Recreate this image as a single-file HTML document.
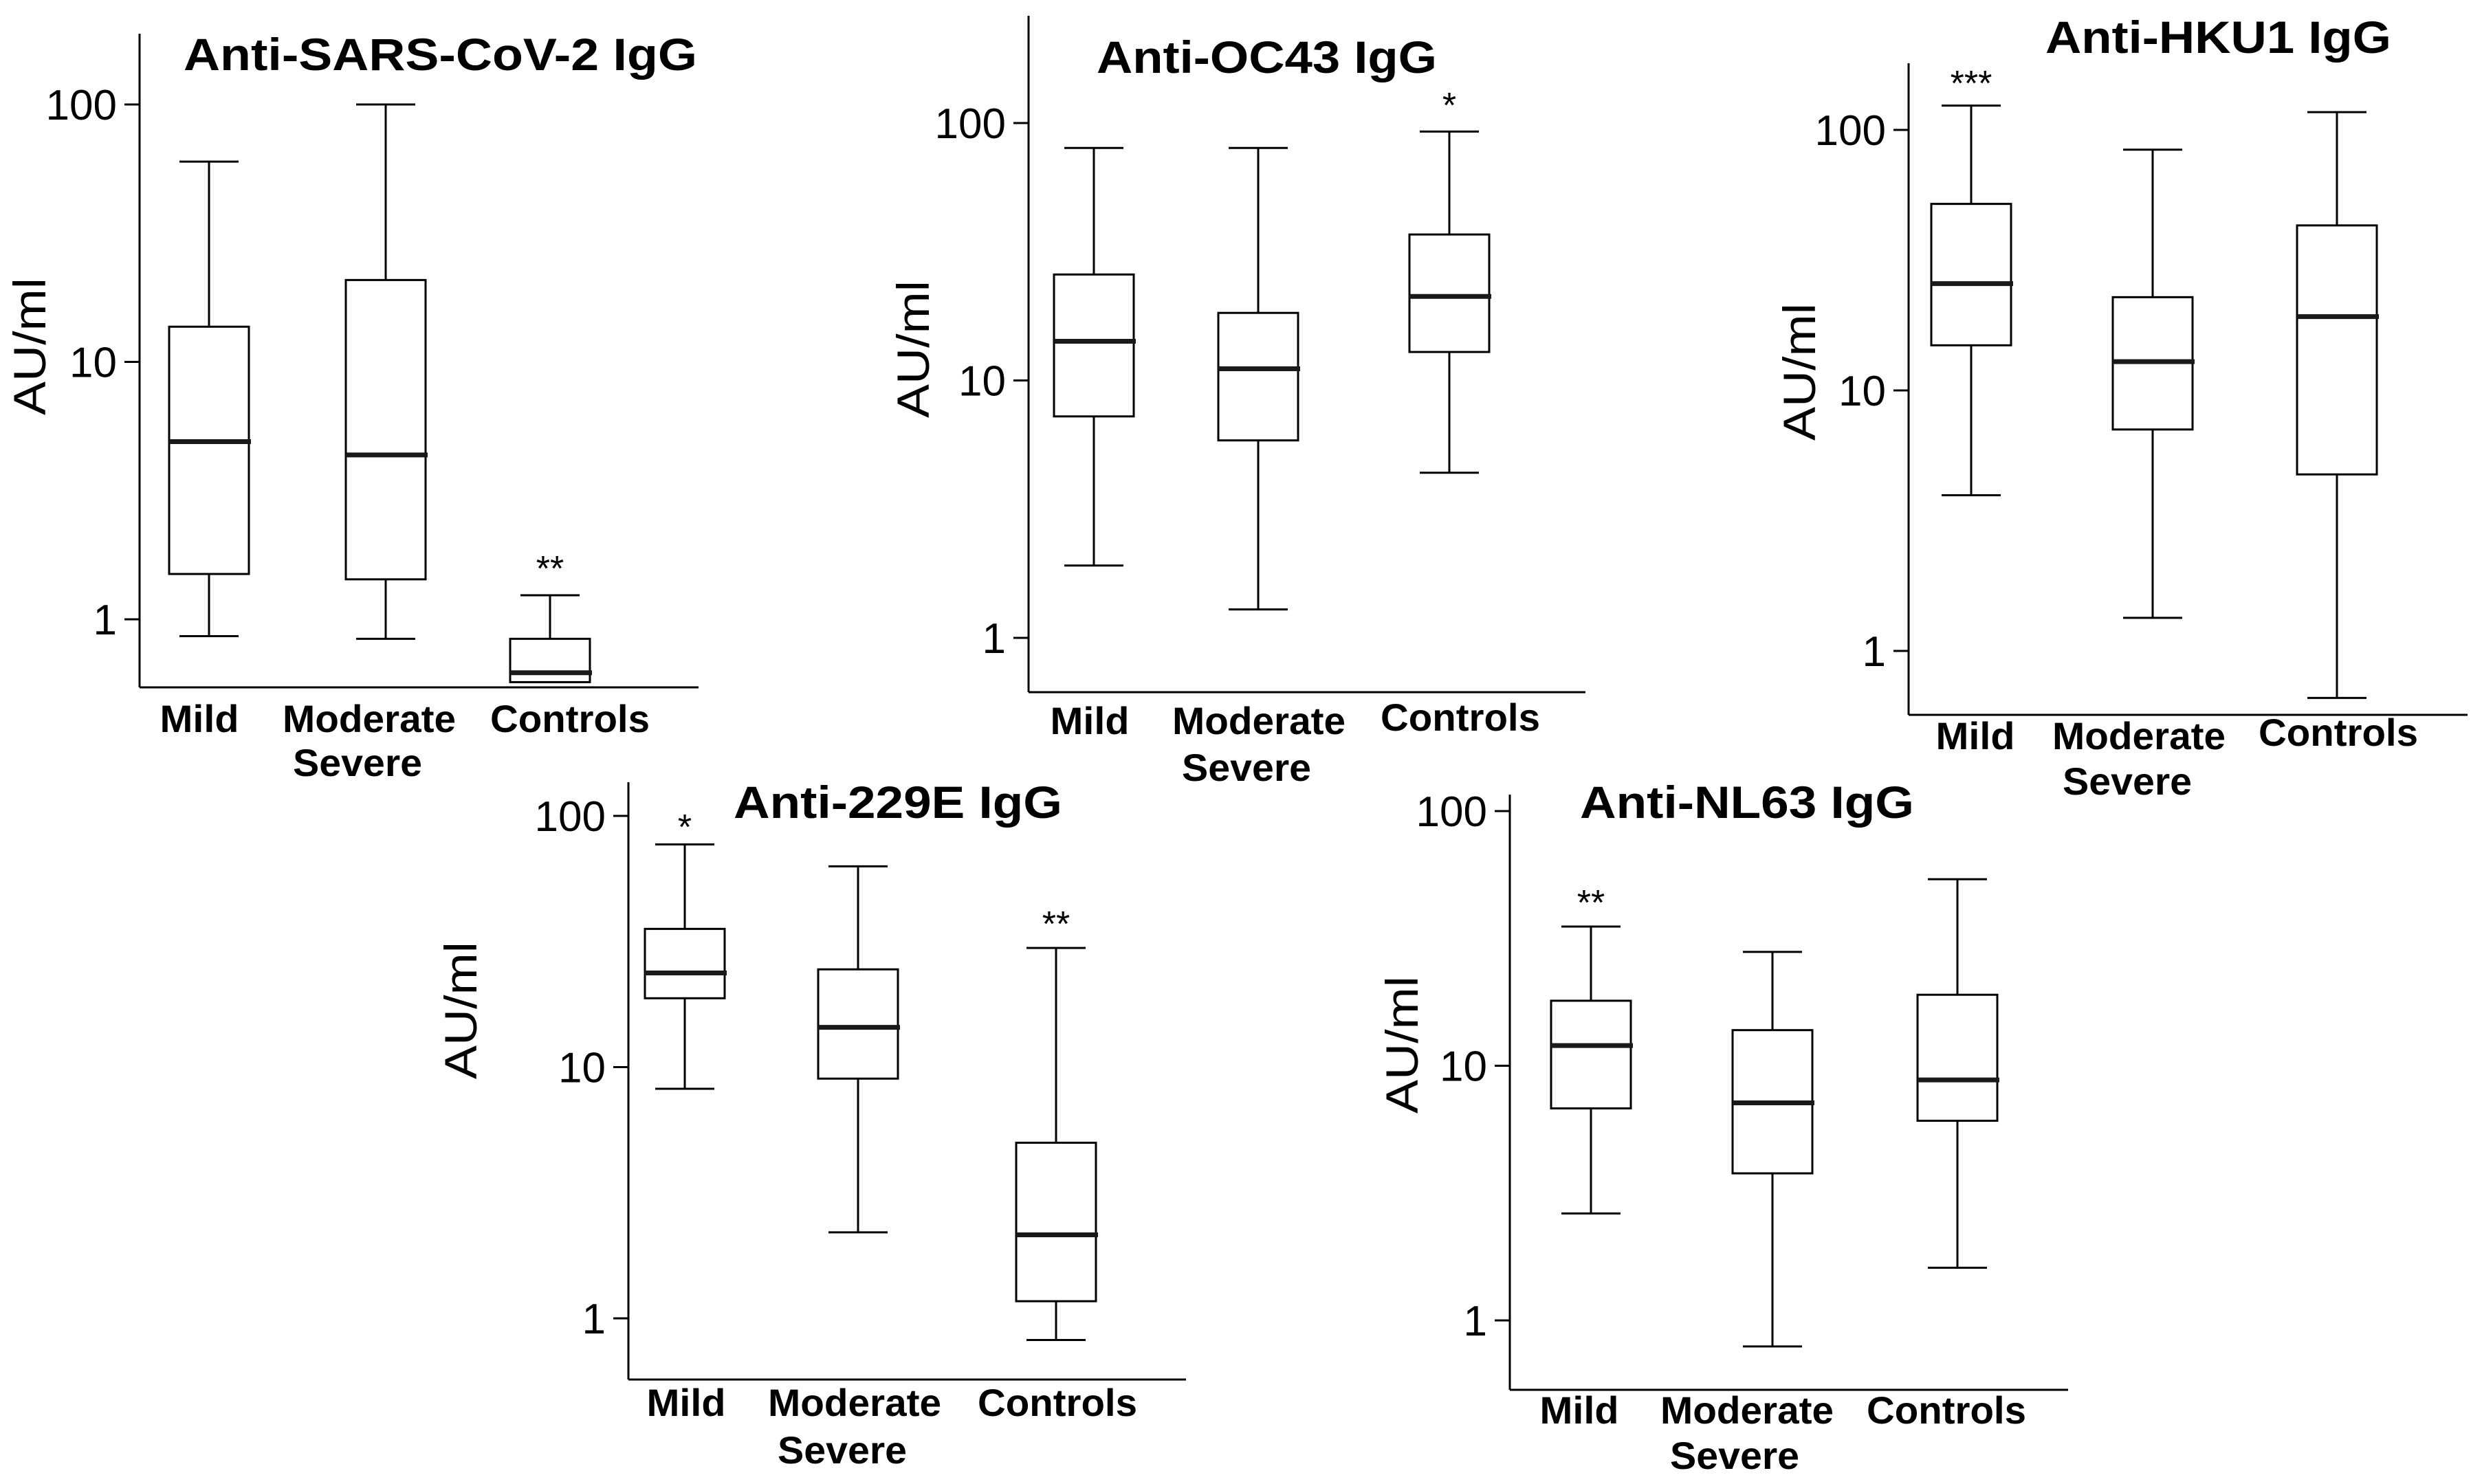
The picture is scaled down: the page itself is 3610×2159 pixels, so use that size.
<!DOCTYPE html>
<html><head><meta charset="utf-8"><style>
html,body{margin:0;padding:0;background:#fff;overflow:hidden;}
svg{display:block;}
text{font-family:"Liberation Sans",Arial,sans-serif;fill:#000;}
</style></head><body>
<svg id="fig" width="3610" height="2159" viewBox="0 0 3610 2159" xmlns="http://www.w3.org/2000/svg"></svg>
<script>
// ---- data (AU/ml) ----
const categories = ["Mild", "Moderate", "Controls"];
const tickValues = [1, 10, 100];
const tickLabels = ["1", "10", "100"];
const sarsMin = [0.86, 0.84, 0.57];
const sarsQ1 = [1.5, 1.43, 0.57];
const sarsMed = [4.9, 4.35, 0.62];
const sarsQ3 = [13.7, 20.8, 0.84];
const sarsMax = [60, 100, 1.24];
const sarsSig = ["", "", "**"];
const oc43Min = [1.91, 1.29, 4.38];
const oc43Q1 = [7.25, 5.85, 12.9];
const oc43Med = [14.2, 11.1, 21.2];
const oc43Q3 = [25.8, 18.3, 36.9];
const oc43Max = [80, 80, 92.7];
const oc43Sig = ["", "", "*"];
const hku1Min = [3.96, 1.34, 0.66];
const hku1Q1 = [14.9, 7.08, 4.76];
const hku1Med = [25.7, 12.9, 19.2];
const hku1Q3 = [52, 22.8, 43];
const hku1Max = [124, 84, 117];
const hku1Sig = ["***", "", ""];
const e229Min = [8.2, 2.2, 0.82];
const e229Q1 = [18.8, 9.0, 1.17];
const e229Med = [23.7, 14.4, 2.15];
const e229Q3 = [35.5, 24.5, 5.0];
const e229Max = [77, 63, 29.8];
const e229Sig = ["*", "", "**"];
const nl63Min = [2.63, 0.79, 1.61];
const nl63Q1 = [6.8, 3.78, 6.08];
const nl63Med = [12, 7.15, 8.8];
const nl63Q3 = [18, 13.8, 19];
const nl63Max = [35.2, 28, 54];
const nl63Sig = ["**", "", ""];

// ---- layout ----
const panels = [
 {id:"sars", title:"Anti-SARS-CoV-2 IgG", d:[sarsMin,sarsQ1,sarsMed,sarsQ3,sarsMax,sarsSig],
  ax:203, top:49, bot:1000, right:1016, y1:901, y100:152, cx:[304,561,800],
  tx:[267,1014,102], yl:[42,504], lab:[290,537,829], sev:520, base:1065, base2:1129, ctrlB:1065, star:[0,0,821]},
 {id:"oc43", title:"Anti-OC43 IgG", d:[oc43Min,oc43Q1,oc43Med,oc43Q3,oc43Max,oc43Sig],
  ax:1496, top:23, bot:1007, right:2306, y1:928, y100:179, cx:[1591,1830,2108],
  tx:[1595,2090,106], yl:[1327,508], lab:[1585,1831,2124], sev:1813, base:1068, base2:1136, ctrlB:1063, star:[0,0,147]},
 {id:"hku1", title:"Anti-HKU1 IgG", d:[hku1Min,hku1Q1,hku1Med,hku1Q3,hku1Max,hku1Sig],
  ax:2776, top:92, bot:1040, right:3589, y1:947, y100:189, cx:[2867,3131,3399],
  tx:[2975,3478,77], yl:[2616,541], lab:[2873,3111,3401], sev:3094, base:1090, base2:1156, ctrlB:1085, star:[115,0,0]},
 {id:"e229", title:"Anti-229E IgG", d:[e229Min,e229Q1,e229Med,e229Q3,e229Max,e229Sig],
  ax:914, top:1138, bot:2007, right:1725, y1:1918, y100:1187, cx:[996,1248,1536],
  tx:[1067,1545,1190], yl:[669,1470], lab:[998,1243,1538], sev:1225, base:2060, base2:2129, ctrlB:2060, star:[1197,0,1338]},
 {id:"nl63", title:"Anti-NL63 IgG", d:[nl63Min,nl63Q1,nl63Med,nl63Q3,nl63Max,nl63Sig],
  ax:2196, top:1156, bot:2022, right:3008, y1:1921, y100:1180, cx:[2314,2578,2847],
  tx:[2298,2784,1190], yl:[2038,1520], lab:[2297,2541,2831], sev:2523, base:2071, base2:2137, ctrlB:2071, star:[1307,0,0]}
];
const NS="http://www.w3.org/2000/svg";
const svg=document.getElementById('fig');
function mk(tag,attrs,parent){const e=document.createElementNS(NS,tag);for(const k in attrs)e.setAttribute(k,attrs[k]);parent.appendChild(e);return e;}
panels.forEach(p=>{
  const g=mk('g',{},svg);
  
  
  const dec=(p.y1-p.y100)/2;
  const yS=v=>p.y1-Math.log10(v)*dec;
  const ln=(a,b,c2,d,w,col)=>mk('line',{x1:a,y1:b,x2:c2,y2:d,stroke:col||'#000','stroke-width':w||3},g);
  const ya=ln(p.ax,p.top,p.ax,p.bot);
  
  
  const xa=ln(p.ax,p.bot,p.right,p.bot);
  
  
  tickValues.forEach((v,i)=>{
    const y=yS(v);
    ln(p.ax-22,y,p.ax,y);
    const t=mk('text',{x:p.ax-33,y:y+22,'font-size':62,'text-anchor':'end'},g);
    t.textContent=tickLabels[i];
    
    
  });
  const yt=mk('text',{x:0,y:0,'font-size':66,'text-anchor':'middle',textLength:200,lengthAdjust:'spacingAndGlyphs',transform:`translate(${p.yl[0]+24},${p.yl[1]}) rotate(-90)`},g);
  yt.textContent="AU/ml";
  
  
  const tt=mk('text',{x:p.tx[0],y:p.tx[2],'font-size':66,'font-weight':'bold',textLength:p.tx[1]-p.tx[0],lengthAdjust:'spacingAndGlyphs'},g);
  tt.textContent=p.title;
  
  
  const [mnA,q1A,mdA,q3A,mxA,sigA]=p.d;
  categories.forEach((c,i)=>{
    const x=p.cx[i], hw=58, cw=43;
    const mn=mnA[i], q1=q1A[i], md=mdA[i], q3=q3A[i], mx=mxA[i];
    const bg=mk('g',{},g);
    
    
    const L=(a,b,c2,d,w,col)=>mk('line',{x1:a,y1:b,x2:c2,y2:d,stroke:col||'#000','stroke-width':w||3},bg);
    L(x,yS(mx),x,yS(q3)); L(x-cw,yS(mx),x+cw,yS(mx));
    L(x,yS(q1),x,yS(mn)); L(x-cw,yS(mn),x+cw,yS(mn));
    mk('rect',{x:x-hw,y:yS(q3),width:2*hw,height:yS(q1)-yS(q3),fill:'#fff',stroke:'#000','stroke-width':3},bg);
    L(x-hw,yS(md),x+hw+3,yS(md),7,'#1a1a1a');
    if(sigA[i]){
      const s=mk('text',{x:x,y:p.star[i]+24,'font-size':52,'text-anchor':'middle'},g);
      s.textContent=sigA[i];
      
      
    }
    const widths=[115,252,232];
    const lt=mk('text',{x:p.lab[i],y:(i==2?p.ctrlB:p.base),'font-size':56,'font-weight':'bold','text-anchor':'middle',textLength:widths[i],lengthAdjust:'spacingAndGlyphs'},g);
    lt.textContent=c;
    
    
  });
  const sv=mk('text',{x:p.sev,y:p.base2,'font-size':56,'font-weight':'bold','text-anchor':'middle',textLength:188,lengthAdjust:'spacingAndGlyphs'},g);
  sv.textContent="Severe";
  
  
});
</script>
</body></html>
